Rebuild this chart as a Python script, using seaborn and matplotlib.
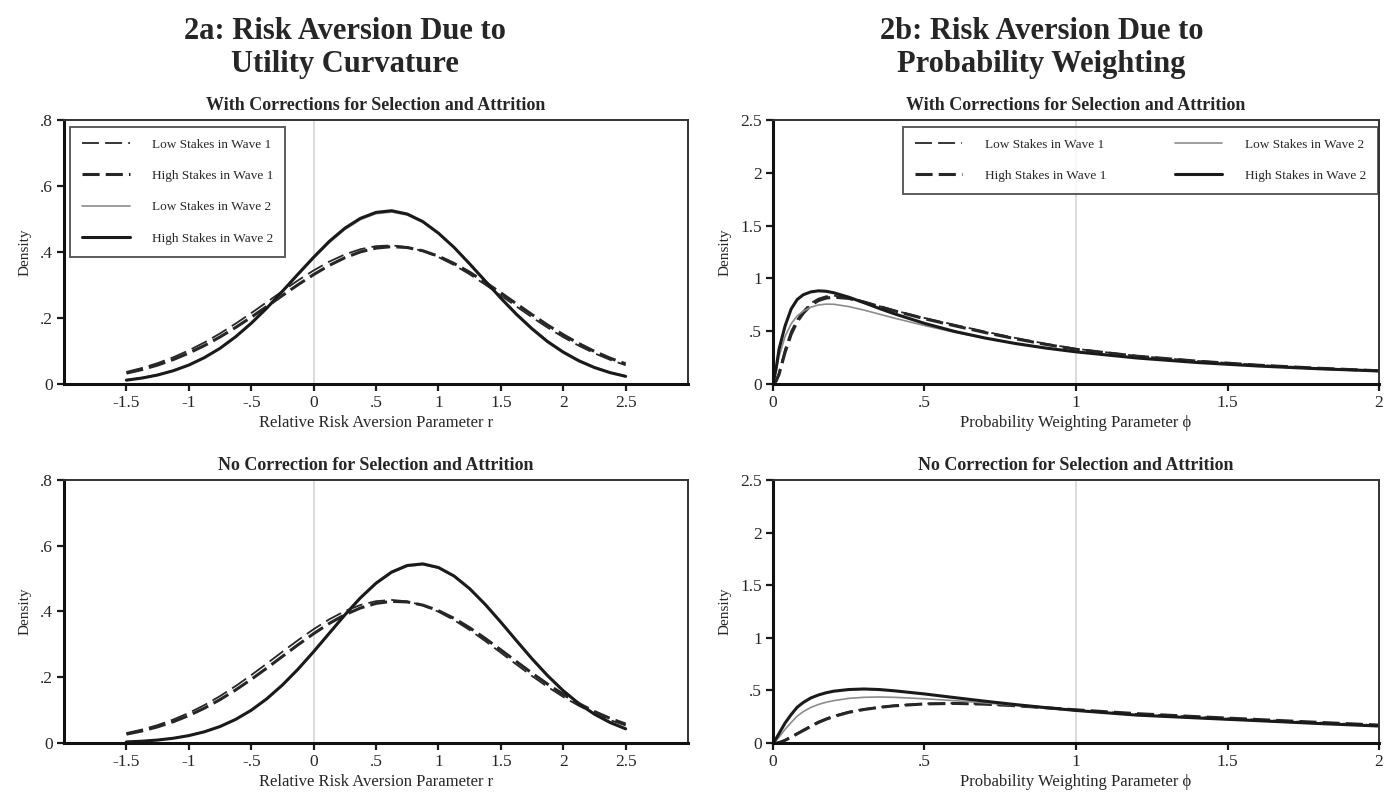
import numpy as np
import pandas as pd
import matplotlib
matplotlib.use("Agg")
import matplotlib.pyplot as plt
import seaborn as sns

# ---- data ----
series_labels = ["Low Stakes in Wave 1", "High Stakes in Wave 1",
                 "Low Stakes in Wave 2", "High Stakes in Wave 2"]

# 2a : relative risk aversion r, step .125 from -1.5 to 2.5
r_grid = np.arange(-1.5, 2.5 + 1e-9, 0.125)

tl_low1 = [0.0365, 0.0484, 0.0631, 0.0808, 0.1017, 0.1258, 0.153, 0.1829, 0.2148, 0.248, 0.2814,
           0.3139, 0.344, 0.3707, 0.3924, 0.4084, 0.4177, 0.4200, 0.4148, 0.4028, 0.3844, 0.3605,
           0.3323, 0.3011, 0.2681, 0.2347, 0.2019, 0.1706, 0.1418, 0.1158, 0.0929, 0.0733, 0.0568]
tl_high1 = [0.0328, 0.0437, 0.0573, 0.0739, 0.0936, 0.1164, 0.1424, 0.1712, 0.2023, 0.2349, 0.2681,
            0.3008, 0.3315, 0.3593, 0.3825, 0.4003, 0.4117, 0.4162, 0.4134, 0.4036, 0.3873, 0.3652,
            0.3385, 0.3083, 0.2760, 0.2429, 0.2101, 0.1784, 0.1491, 0.1224, 0.0987, 0.0783, 0.0610]
tl_low2 = [0.0125, 0.0190, 0.0282, 0.0410, 0.0580, 0.0802, 0.108, 0.142, 0.182, 0.228, 0.278,
           0.330, 0.381, 0.428, 0.468, 0.498, 0.516, 0.521, 0.512, 0.490, 0.456, 0.414,
           0.365, 0.314, 0.262, 0.214, 0.170, 0.131, 0.0990, 0.0725, 0.0517, 0.0358, 0.0243]
tl_high2 = [0.0115, 0.0179, 0.0271, 0.0400, 0.0572, 0.0798, 0.108, 0.143, 0.184, 0.230, 0.281,
            0.333, 0.384, 0.432, 0.472, 0.502, 0.520, 0.525, 0.515, 0.492, 0.457, 0.414,
            0.364, 0.312, 0.260, 0.211, 0.167, 0.128, 0.0962, 0.0701, 0.0497, 0.0343, 0.0231]

bl_low1 = [0.0301, 0.0408, 0.0544, 0.0712, 0.0914, 0.1152, 0.1425, 0.1731, 0.2064, 0.2415, 0.2774,
           0.3127, 0.3461, 0.3760, 0.4010, 0.4197, 0.4313, 0.4350, 0.4307, 0.4185, 0.3992, 0.3738,
           0.3436, 0.3100, 0.2745, 0.2386, 0.2036, 0.1705, 0.1402, 0.1131, 0.0896, 0.0697, 0.0532]
bl_high1 = [0.0268, 0.0366, 0.0491, 0.0646, 0.0835, 0.1059, 0.1319, 0.1612, 0.1934, 0.2278, 0.2633,
            0.2986, 0.3325, 0.3635, 0.3900, 0.4106, 0.4245, 0.4307, 0.4290, 0.4193, 0.4024, 0.3790,
            0.3504, 0.3179, 0.2831, 0.2475, 0.2124, 0.1789, 0.1479, 0.1200, 0.0956, 0.0748, 0.0574]
bl_low2 = [0.0035, 0.0058, 0.0094, 0.0149, 0.0231, 0.0348, 0.0509, 0.0724, 0.1000, 0.1345, 0.1758,
           0.2235, 0.2762, 0.3318, 0.3873, 0.4390, 0.4835, 0.5172, 0.5373, 0.5423, 0.5318, 0.5066,
           0.4688, 0.4215, 0.3682, 0.3126, 0.2577, 0.2066, 0.1608, 0.1216, 0.0893, 0.0638, 0.0443]
bl_high2 = [0.0032, 0.0054, 0.0089, 0.0143, 0.0224, 0.0340, 0.0500, 0.0716, 0.0995, 0.1344, 0.1763,
            0.2245, 0.2777, 0.3337, 0.3895, 0.4416, 0.4861, 0.5199, 0.5399, 0.5447, 0.5337, 0.5079,
            0.4694, 0.4214, 0.3674, 0.3112, 0.2559, 0.2045, 0.1587, 0.1196, 0.0875, 0.0622, 0.0430]

# 2b : probability weighting phi
phi_grid = [0, 0.01, 0.02, 0.04, 0.06, 0.08, 0.10, 0.125, 0.15, 0.175, 0.2, 0.25, 0.3,
            0.35, 0.4, 0.5, 0.6, 0.7, 0.8, 0.9, 1.0, 1.2, 1.4, 1.6, 1.8, 2.0]

tr_low1 = [0, 0.03, 0.11, 0.33, 0.50, 0.61, 0.69, 0.765, 0.808, 0.830, 0.836, 0.818, 0.780,
           0.738, 0.697, 0.625, 0.560, 0.496, 0.436, 0.381, 0.333, 0.266, 0.218, 0.180, 0.150, 0.126]
tr_high1 = [0, 0.025, 0.09, 0.30, 0.47, 0.59, 0.67, 0.745, 0.79, 0.813, 0.822, 0.810, 0.776,
            0.735, 0.693, 0.618, 0.551, 0.487, 0.428, 0.375, 0.328, 0.263, 0.216, 0.178, 0.149, 0.125]
tr_low2 = [0, 0.12, 0.26, 0.45, 0.57, 0.645, 0.69, 0.727, 0.748, 0.756, 0.755, 0.733, 0.700,
           0.662, 0.624, 0.553, 0.489, 0.433, 0.385, 0.343, 0.307, 0.249, 0.206, 0.172, 0.146, 0.125]
tr_high2 = [0, 0.14, 0.33, 0.55, 0.71, 0.80, 0.845, 0.872, 0.882, 0.878, 0.864, 0.822, 0.770,
            0.716, 0.665, 0.574, 0.497, 0.435, 0.383, 0.340, 0.304, 0.246, 0.203, 0.170, 0.144, 0.123]

br_low1 = [0, 0.0, 0.004, 0.03, 0.06, 0.093, 0.125, 0.165, 0.203, 0.232, 0.258, 0.297, 0.322,
           0.341, 0.357, 0.374, 0.378, 0.370, 0.353, 0.333, 0.313, 0.276, 0.248, 0.221, 0.194, 0.168]
br_high1 = [0, 0.0, 0.003, 0.025, 0.055, 0.087, 0.118, 0.157, 0.195, 0.225, 0.251, 0.291, 0.318,
            0.338, 0.353, 0.371, 0.376, 0.369, 0.354, 0.335, 0.315, 0.279, 0.250, 0.223, 0.196, 0.170]
br_low2 = [0, 0.025, 0.055, 0.13, 0.195, 0.255, 0.298, 0.338, 0.366, 0.387, 0.402, 0.424, 0.434,
           0.437, 0.434, 0.420, 0.402, 0.381, 0.357, 0.332, 0.307, 0.264, 0.237, 0.211, 0.184, 0.160]
br_high2 = [0, 0.04, 0.09, 0.19, 0.27, 0.34, 0.385, 0.428, 0.456, 0.477, 0.492, 0.508, 0.513,
            0.508, 0.496, 0.466, 0.431, 0.397, 0.365, 0.336, 0.309, 0.265, 0.238, 0.212, 0.185, 0.161]

r_ticks = [-1.5, -1, -0.5, 0, 0.5, 1, 1.5, 2, 2.5]
r_ticklabels = ["-1.5", "-1", "-.5", "0", ".5", "1", "1.5", "2", "2.5"]
r_yticks = [0, 0.2, 0.4, 0.6, 0.8]
r_yticklabels = ["0", ".2", ".4", ".6", ".8"]
phi_ticks = [0, 0.5, 1, 1.5, 2]
phi_ticklabels = ["0", ".5", "1", "1.5", "2"]
phi_yticks = [0, 0.5, 1, 1.5, 2, 2.5]
phi_yticklabels = ["0", ".5", "1", "1.5", "2", "2.5"]

# ---- style ----
sns.set_theme(style="white")
plt.rcParams["font.family"] = ["Liberation Serif", "DejaVu Serif"]

line_styles = [
    dict(color="#262626", lw=1.3, linestyle=(0, (9.4, 3.4))),
    dict(color="#262626", lw=2.2, linestyle=(0, (5.6, 2.0))),
    dict(color="#8c8c8c", lw=1.2, linestyle="-"),
    dict(color="#1a1a1a", lw=2.2, linestyle="-"),
]

fig = plt.figure(figsize=(13.85, 7.92), dpi=100)

ax_tl = fig.add_axes([0.0462, 0.5152, 0.4506, 0.3333])
ax_bl = fig.add_axes([0.0462, 0.0619, 0.4506, 0.3321])
ax_tr = fig.add_axes([0.5581, 0.5152, 0.4376, 0.3333])
ax_br = fig.add_axes([0.5581, 0.0619, 0.4376, 0.3321])


def draw_panel(ax, x, ys, title, xlabel, xlim, ylim, xticks, xticklabels,
               yticks, yticklabels, refline):
    ax.axvline(refline, color="#d9d9d9", lw=1.3, zorder=0)
    for y, lab, st in zip(ys, series_labels, line_styles):
        df = pd.DataFrame({"x": x, "y": y})
        sns.lineplot(data=df, x="x", y="y", ax=ax, label=lab, sort=False,
                     color=st["color"], lw=st["lw"], linestyle=st["linestyle"])
    ax.set_xlim(*xlim)
    ax.set_ylim(*ylim)
    ax.set_xticks(xticks)
    ax.set_xticklabels(xticklabels)
    ax.set_yticks(yticks)
    ax.set_yticklabels(yticklabels)
    ax.tick_params(axis="both", direction="out", length=5, width=1.6,
                   color="#1a1a1a", labelsize=12.5, pad=3, bottom=True, left=True)
    ax.set_title(title, fontsize=13, fontweight="bold", pad=7)
    ax.set_xlabel(xlabel, fontsize=12, labelpad=3)
    ax.set_ylabel("Density", fontsize=11, labelpad=6)
    for side in ["left", "bottom"]:
        ax.spines[side].set_linewidth(2.2)
        ax.spines[side].set_color("#111111")
    for side in ["top", "right"]:
        ax.spines[side].set_linewidth(1.4)
        ax.spines[side].set_color("#333333")
    ax.grid(False)


panels = [
    (ax_tl, r_grid, [tl_low1, tl_high1, tl_low2, tl_high2],
     "With Corrections for Selection and Attrition", "Relative Risk Aversion Parameter r",
     (-2, 3), (0, 0.8), r_ticks, r_ticklabels, r_yticks, r_yticklabels, 0),
    (ax_bl, r_grid, [bl_low1, bl_high1, bl_low2, bl_high2],
     "No Correction for Selection and Attrition", "Relative Risk Aversion Parameter r",
     (-2, 3), (0, 0.8), r_ticks, r_ticklabels, r_yticks, r_yticklabels, 0),
    (ax_tr, phi_grid, [tr_low1, tr_high1, tr_low2, tr_high2],
     "With Corrections for Selection and Attrition", "Probability Weighting Parameter \u03d5",
     (0, 2), (0, 2.5), phi_ticks, phi_ticklabels, phi_yticks, phi_yticklabels, 1),
    (ax_br, phi_grid, [br_low1, br_high1, br_low2, br_high2],
     "No Correction for Selection and Attrition", "Probability Weighting Parameter \u03d5",
     (0, 2), (0, 2.5), phi_ticks, phi_ticklabels, phi_yticks, phi_yticklabels, 1),
]
for p in panels:
    draw_panel(*p)

leg_kw = dict(fontsize=9.5, frameon=True, fancybox=False, edgecolor="#333333",
              handlelength=3.6, handletextpad=1.7, borderpad=0.9, labelspacing=1.45,
              borderaxespad=0)
leg = ax_tl.legend(loc="upper left", bbox_to_anchor=(0.01, 0.975), **leg_kw)
leg.get_frame().set_linewidth(1.4)
leg = ax_tr.legend(loc="upper right", bbox_to_anchor=(0.998, 0.975), ncol=2,
                   columnspacing=5.2, **leg_kw)
leg.get_frame().set_linewidth(1.4)
ax_bl.get_legend().remove()
ax_br.get_legend().remove()

fig.text(0.249, 0.978, "2a: Risk Aversion Due to\nUtility Curvature", ha="center", va="top",
         fontsize=22, fontweight="bold", linespacing=1.15)
fig.text(0.752, 0.978, "2b: Risk Aversion Due to\nProbability Weighting", ha="center", va="top",
         fontsize=22, fontweight="bold", linespacing=1.15)

fig.savefig("out.png", dpi=100, facecolor="white")
